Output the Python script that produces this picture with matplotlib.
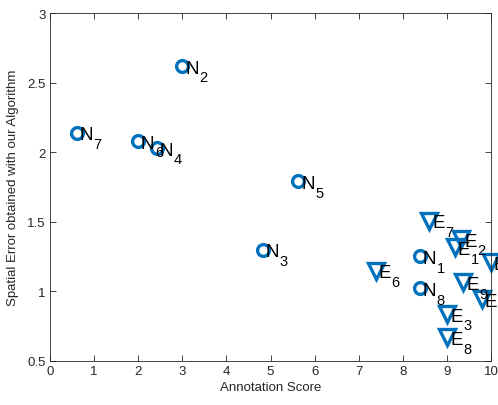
import numpy as np
import matplotlib
matplotlib.use('Agg')
import matplotlib.pyplot as plt

plt.rcParams['font.family'] = ['Liberation Sans', 'DejaVu Sans']

# N points (circles)
n_labels = ['1', '2', '3', '4', '5', '6', '7', '8']
n_score = [8.39, 3.0, 4.82, 2.42, 5.63, 2.0, 0.61, 8.39]
n_error = [1.252, 2.62, 1.30, 2.03, 1.79, 2.08, 2.14, 1.022]

# E points (triangles)
e_labels = ['1', '2', '3', '4', '5', '6', '7', '8', '9']
e_score = [9.18, 9.33, 9.01, 9.99, 9.79, 7.39, 8.60, 9.01, 9.37]
e_error = [1.317, 1.376, 0.838, 1.209, 0.945, 1.149, 1.508, 0.670, 1.065]

blue = '#0072BD'
dark = '#262626'

fig = plt.figure(figsize=(4.98, 4.06), dpi=100)
ax = fig.add_axes([0.1004, 0.1084, 0.8856, 0.857])

ax.plot(n_score, n_error, 'o', color=blue, markerfacecolor='none',
        markersize=8.5, markeredgewidth=2.4, clip_on=False)
ax.plot(e_score, e_error, 'v', color=blue, markerfacecolor='none',
        markersize=11.5, markeredgewidth=2.4, clip_on=False)

ax.set_xlim(0, 10)
ax.set_ylim(0.5, 3)

renderer = fig.canvas.get_renderer()


def label(letter, sub, x, y):
    # main letter centred on the point, subscript dropped below its baseline
    t = ax.annotate(letter, (x, y), xytext=(2, -4.8), textcoords='offset points',
                    fontsize=13.5, ha='left', va='baseline', annotation_clip=False)
    w = t.get_window_extent(renderer).width * 72 / fig.dpi
    ax.annotate(sub, (x, y), xytext=(2 + w + 0.3, -11), textcoords='offset points',
                fontsize=10.5, ha='left', va='baseline', annotation_clip=False)


for lab, x, y in zip(n_labels, n_score, n_error):
    label('N', lab, x, y)
for lab, x, y in zip(e_labels, e_score, e_error):
    label('E', lab, x, y)

ax.set_xticks(np.arange(0, 11, 1))
ax.set_yticks([0.5, 1, 1.5, 2, 2.5, 3])
ax.set_yticklabels(['0.5', '1', '1.5', '2', '2.5', '3'])
ax.tick_params(direction='in', top=True, right=True, length=4, width=0.6,
               colors=dark, labelsize=9.5, labelcolor=dark, pad=3)
for s in ax.spines.values():
    s.set_color(dark)
    s.set_linewidth(0.6)
ax.set_xlabel('Annotation Score', fontsize=9.5, color=dark, labelpad=3)
ax.set_ylabel('Spatial Error obtained with our Algorithm', fontsize=9.5, color=dark, labelpad=6)

fig.savefig('out.png', dpi=100)
